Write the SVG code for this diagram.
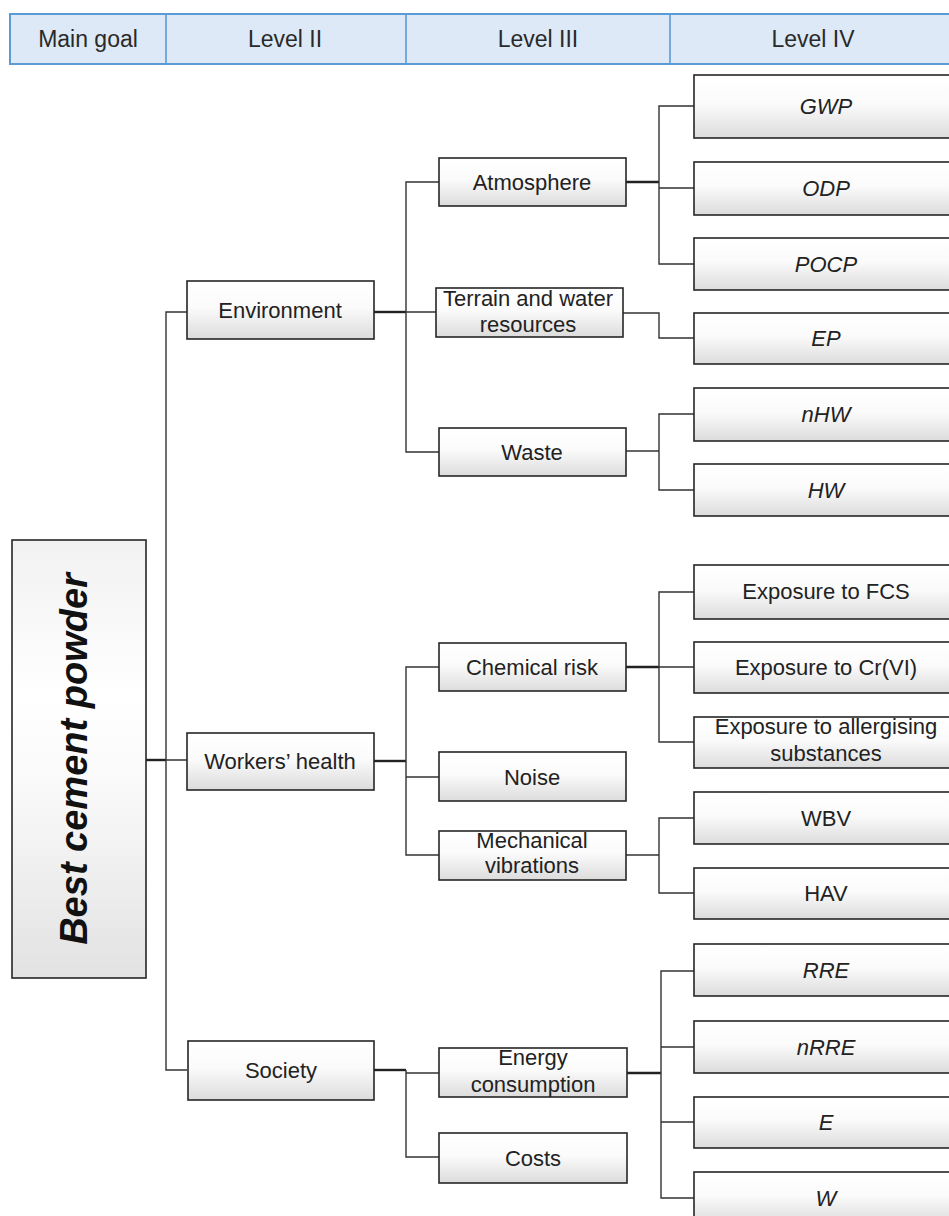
<svg xmlns="http://www.w3.org/2000/svg" width="949" height="1216" viewBox="0 0 949 1216">
<defs>
<linearGradient id="g" x1="0" y1="0" x2="0" y2="1">
<stop offset="0" stop-color="#ffffff"/>
<stop offset="0.45" stop-color="#fbfbfb"/>
<stop offset="1" stop-color="#dcdcdc"/>
</linearGradient>
<linearGradient id="gm" x1="0" y1="0" x2="0" y2="1">
<stop offset="0" stop-color="#f1f1f1"/>
<stop offset="0.35" stop-color="#ffffff"/>
<stop offset="0.55" stop-color="#fafafa"/>
<stop offset="1" stop-color="#e2e2e2"/>
</linearGradient>
<style>
.box{fill:url(#g);stroke:#262626;stroke-width:1.6}
.t{font-family:"Liberation Sans",Arial,sans-serif;font-size:22px;fill:#222;text-anchor:middle}
.i{font-style:italic}
.h{font-family:"Liberation Sans",Arial,sans-serif;font-size:23px;fill:#2a2a2a;text-anchor:middle}
.c{fill:none;stroke:#333;stroke-width:1.4}
.ct{fill:none;stroke:#222;stroke-width:2.4}
</style>
</defs>
<rect width="949" height="1216" fill="#ffffff"/>
<g id="header">
<rect x="10" y="14" width="960" height="50" fill="#dde9f6" stroke="#5b9bd5" stroke-width="2"/>
<line x1="166" y1="14" x2="166" y2="64" stroke="#5b9bd5" stroke-width="1.6"/>
<line x1="406" y1="14" x2="406" y2="64" stroke="#5b9bd5" stroke-width="1.6"/>
<line x1="670" y1="14" x2="670" y2="64" stroke="#5b9bd5" stroke-width="1.6"/>
<text class="h" x="88" y="47">Main goal</text>
<text class="h" x="285" y="47">Level II</text>
<text class="h" x="538" y="47">Level III</text>
<text class="h" x="813" y="47">Level IV</text>
</g>
<g id="connectors">
<path class="ct" d="M146 760H166"/>
<path class="c" d="M187 312H166V1070H187M166 760H187"/>
<path class="ct" d="M374 312H406"/>
<path class="c" d="M440 182H406V452H440M406 312H436"/>
<path class="ct" d="M626 182H659"/>
<path class="c" d="M694 106H659V264H694M659 188H694"/>
<path class="c" d="M623 313H659V338H694"/>
<path class="c" d="M626 451H659"/>
<path class="c" d="M694 414H659V490H694"/>
<path class="ct" d="M374 761H406"/>
<path class="c" d="M440 667H406V855H440M406 777H440"/>
<path class="ct" d="M626 667H659"/>
<path class="c" d="M694 592H659V742H694M659 667H694"/>
<path class="c" d="M626 855H659"/>
<path class="c" d="M694 818H659V893H694"/>
<path class="ct" d="M374 1070H406"/>
<path class="c" d="M406 1070V1157H440M406 1073H440"/>
<path class="ct" d="M627 1073H661"/>
<path class="c" d="M694 971H661V1198H694M661 1047H694M661 1122H694"/>
</g>
<g id="main-goal">
<rect x="12" y="540" width="134" height="438" fill="url(#gm)" stroke="#262626" stroke-width="1.6"/>
<text transform="translate(87 759) rotate(-90)" text-anchor="middle" font-family="'Liberation Sans',Arial,sans-serif" font-size="38" font-weight="bold" font-style="italic" fill="#111">Best cement powder</text>
</g>
<g id="environment"><rect class="box" x="187" y="281" width="187" height="58"/><text class="t" x="280" y="318">Environment</text></g>
<g id="workers-health"><rect class="box" x="187" y="733" width="187" height="57"/><text class="t" x="280" y="769">Workers’ health</text></g>
<g id="society"><rect class="box" x="188" y="1041" width="186" height="59"/><text class="t" x="281" y="1078">Society</text></g>
<g id="atmosphere"><rect class="box" x="439" y="158" width="187" height="48"/><text class="t" x="532" y="190">Atmosphere</text></g>
<g id="terrain"><rect class="box" x="436" y="288" width="187" height="49"/><text class="t" x="528" y="306">Terrain and water</text><text class="t" x="528" y="332">resources</text></g>
<g id="waste"><rect class="box" x="439" y="428" width="187" height="48"/><text class="t" x="532" y="460">Waste</text></g>
<g id="chemical-risk"><rect class="box" x="439" y="643" width="187" height="48"/><text class="t" x="532" y="675">Chemical risk</text></g>
<g id="noise"><rect class="box" x="439" y="752" width="187" height="49"/><text class="t" x="532" y="785">Noise</text></g>
<g id="mechanical"><rect class="box" x="439" y="831" width="187" height="49"/><text class="t" x="532" y="848">Mechanical</text><text class="t" x="532" y="873">vibrations</text></g>
<g id="energy"><rect class="box" x="439" y="1048" width="188" height="49"/><text class="t" x="533" y="1065">Energy</text><text class="t" x="533" y="1092">consumption</text></g>
<g id="costs"><rect class="box" x="439" y="1133" width="188" height="50"/><text class="t" x="533" y="1166">Costs</text></g>
<g id="gwp"><rect class="box" x="694" y="75" width="264" height="63"/><text class="t i" x="826" y="114">GWP</text></g>
<g id="odp"><rect class="box" x="694" y="162" width="264" height="53"/><text class="t i" x="826" y="196">ODP</text></g>
<g id="pocp"><rect class="box" x="694" y="238" width="264" height="52"/><text class="t i" x="826" y="272">POCP</text></g>
<g id="ep"><rect class="box" x="694" y="313" width="264" height="51"/><text class="t i" x="826" y="346">EP</text></g>
<g id="nhw"><rect class="box" x="694" y="388" width="264" height="53"/><text class="t i" x="826" y="422">nHW</text></g>
<g id="hw"><rect class="box" x="694" y="464" width="264" height="52"/><text class="t i" x="826" y="498">HW</text></g>
<g id="fcs"><rect class="box" x="694" y="565" width="264" height="54"/><text class="t" x="826" y="599">Exposure to FCS</text></g>
<g id="crvi"><rect class="box" x="694" y="642" width="264" height="51"/><text class="t" x="826" y="675">Exposure to Cr(VI)</text></g>
<g id="allergising"><rect class="box" x="694" y="717" width="264" height="51"/><text class="t" x="826" y="734">Exposure to allergising</text><text class="t" x="826" y="761">substances</text></g>
<g id="wbv"><rect class="box" x="694" y="792" width="264" height="52"/><text class="t" x="826" y="826">WBV</text></g>
<g id="hav"><rect class="box" x="694" y="868" width="264" height="51"/><text class="t" x="826" y="901">HAV</text></g>
<g id="rre"><rect class="box" x="694" y="944" width="264" height="52"/><text class="t i" x="826" y="978">RRE</text></g>
<g id="nrre"><rect class="box" x="694" y="1021" width="264" height="52"/><text class="t i" x="826" y="1055">nRRE</text></g>
<g id="e"><rect class="box" x="694" y="1097" width="264" height="51"/><text class="t i" x="826" y="1130">E</text></g>
<g id="w"><rect class="box" x="694" y="1172" width="264" height="52"/><text class="t i" x="826" y="1206">W</text></g>
</svg>
